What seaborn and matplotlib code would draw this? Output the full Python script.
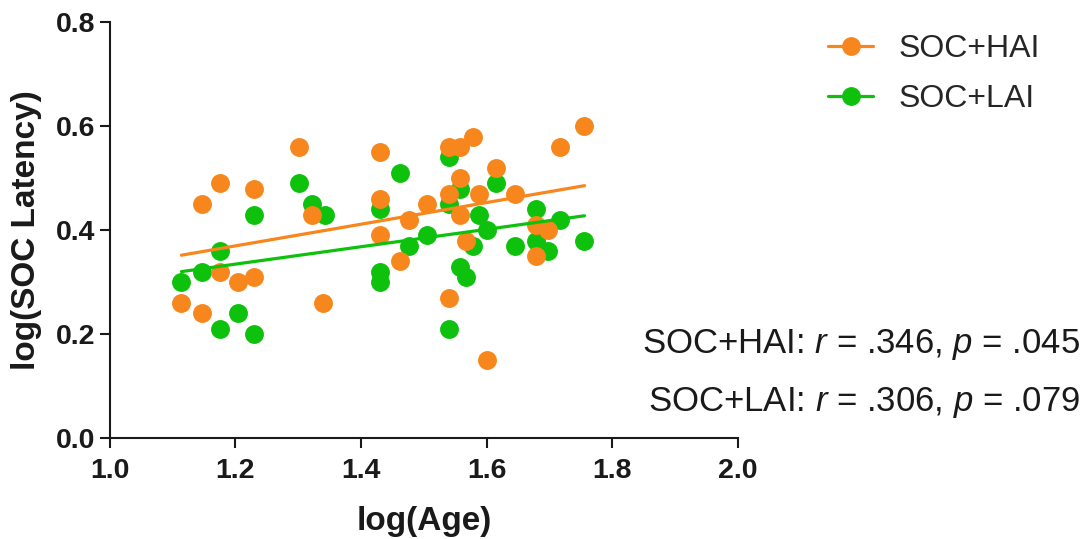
import matplotlib
matplotlib.use("Agg")
import matplotlib.pyplot as plt
import seaborn as sns
import numpy as np
import pandas as pd
from matplotlib.lines import Line2D

# ---- data ----
hai_x = [1.114, 1.146, 1.146, 1.176, 1.176, 1.204, 1.230, 1.230, 1.301, 1.322,
         1.339, 1.431, 1.431, 1.431, 1.462, 1.477, 1.505, 1.540, 1.540, 1.540,
         1.557, 1.557, 1.557, 1.568, 1.578, 1.588, 1.600, 1.615, 1.645, 1.678,
         1.678, 1.698, 1.717, 1.756]
hai_y = [0.26, 0.45, 0.24, 0.49, 0.32, 0.30, 0.48, 0.31, 0.56, 0.43,
         0.26, 0.55, 0.46, 0.39, 0.34, 0.42, 0.45, 0.56, 0.47, 0.27,
         0.56, 0.50, 0.43, 0.38, 0.58, 0.47, 0.15, 0.52, 0.47, 0.41,
         0.35, 0.40, 0.56, 0.60]

lai_x = [1.114, 1.146, 1.176, 1.176, 1.204, 1.230, 1.230, 1.301, 1.322, 1.342,
         1.431, 1.431, 1.431, 1.462, 1.477, 1.505, 1.540, 1.540, 1.540, 1.557,
         1.557, 1.568, 1.578, 1.588, 1.600, 1.615, 1.645, 1.678, 1.678, 1.698,
         1.717, 1.756]
lai_y = [0.30, 0.32, 0.36, 0.21, 0.24, 0.43, 0.20, 0.49, 0.45, 0.43,
         0.44, 0.32, 0.30, 0.51, 0.37, 0.39, 0.54, 0.45, 0.21, 0.48,
         0.33, 0.31, 0.37, 0.43, 0.40, 0.49, 0.37, 0.44, 0.38, 0.36,
         0.42, 0.38]

series_names = ["SOC+HAI", "SOC+LAI"]
stats_text = ["SOC+HAI: $\\mathit{r}$ = .346, $\\mathit{p}$ = .045",
              "SOC+LAI: $\\mathit{r}$ = .306, $\\mathit{p}$ = .079"]
x_ticks = [1.0, 1.2, 1.4, 1.6, 1.8, 2.0]
y_ticks = [0.0, 0.2, 0.4, 0.6, 0.8]

ORANGE = "#F7861C"
GREEN = "#0DC10D"
DARK = "#1a1a1a"

sns.set_style("ticks")
plt.rcParams["font.family"] = ["Liberation Sans", "DejaVu Sans"]
plt.rcParams["mathtext.fontset"] = "custom"
plt.rcParams["mathtext.rm"] = "Liberation Sans"
plt.rcParams["mathtext.it"] = "Liberation Sans:italic"

fig = plt.figure(figsize=(10.88, 5.39), dpi=100)
ax = fig.add_axes([0.101, 0.187, 0.577, 0.772])

df_h = pd.DataFrame({"x": hai_x, "y": hai_y})
df_l = pd.DataFrame({"x": lai_x, "y": lai_y})

sns.regplot(data=df_l, x="x", y="y", ax=ax, ci=None, truncate=True, color=GREEN,
            scatter_kws=dict(s=185, alpha=1, linewidths=0, zorder=2),
            line_kws=dict(lw=2.3, zorder=4))
sns.regplot(data=df_h, x="x", y="y", ax=ax, ci=None, truncate=True, color=ORANGE,
            scatter_kws=dict(s=185, alpha=1, linewidths=0, zorder=3),
            line_kws=dict(lw=2.3, zorder=4))

ax.set_xlim(1.0, 2.0)
ax.set_ylim(0.0, 0.8)
ax.set_xticks(x_ticks)
ax.set_yticks(y_ticks)
ax.set_xticklabels([f"{v:.1f}" for v in x_ticks], fontsize=20.5, fontweight="bold", color=DARK)
ax.set_yticklabels([f"{v:.1f}" for v in y_ticks], fontsize=20.5, fontweight="bold", color=DARK)
ax.set_xlabel("log(Age)", fontsize=24, fontweight="bold", color=DARK)
ax.set_ylabel("log(SOC Latency)", fontsize=24, fontweight="bold", color=DARK)
ax.xaxis.set_label_coords(0.5, -0.162)
ax.yaxis.set_label_coords(-0.108, 0.5)
ax.tick_params(axis="both", length=7.5, width=1.5, direction="out", color=DARK)
ax.tick_params(axis="x", pad=7)
ax.tick_params(axis="y", pad=3)
for sp in ["left", "bottom"]:
    ax.spines[sp].set_linewidth(1.5)
    ax.spines[sp].set_color(DARK)
sns.despine(ax=ax)
for coll in ax.collections:
    coll.set_clip_on(False)

handles = [Line2D([0], [0], color=ORANGE, lw=2.3, marker="o", markersize=12.5),
           Line2D([0], [0], color=GREEN, lw=2.3, marker="o", markersize=12.5)]
fig.legend(handles, series_names, loc="upper left", bbox_to_anchor=(0.735, 0.99),
           frameon=False, fontsize=23, handlelength=1.4, handletextpad=0.8,
           labelspacing=0.62)

fig.text(0.993, 1 - 345 / 539, stats_text[0], ha="right", va="center", fontsize=25, color=DARK)
fig.text(0.993, 1 - 403 / 539, stats_text[1], ha="right", va="center", fontsize=25, color=DARK)

fig.savefig("out.png", dpi=100)
